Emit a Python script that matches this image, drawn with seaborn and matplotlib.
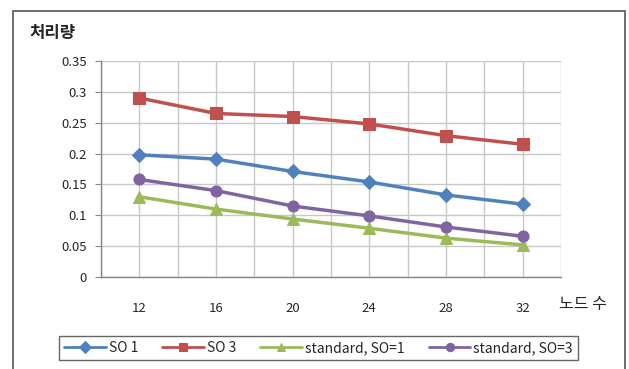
import matplotlib
matplotlib.use("Agg")
import matplotlib.pyplot as plt
import matplotlib.patches as patches
from matplotlib.ticker import MultipleLocator
import seaborn as sns
import pandas as pd
import numpy as np

nodes = ["12", "16", "20", "24", "28", "32"]
so1 = [0.198, 0.191, 0.171, 0.154, 0.133, 0.118]
so3 = [0.290, 0.265, 0.260, 0.248, 0.229, 0.215]
std_so1 = [0.130, 0.110, 0.094, 0.079, 0.063, 0.052]
std_so3 = [0.158, 0.140, 0.115, 0.099, 0.081, 0.066]
series_names = ["SO 1", "SO 3", "standard, SO=1", "standard, SO=3"]
y_ticks = [0, 0.05, 0.1, 0.15, 0.2, 0.25, 0.3, 0.35]
y_labels = ["0", "0.05", "0.1", "0.15", "0.2", "0.25", "0.3", "0.35"]

sns.set_style("white")
plt.rcParams['font.family'] = ['Noto Sans CJK KR', 'DejaVu Sans']

fig = plt.figure(figsize=(6.29, 3.69), dpi=100)
ax = fig.add_axes([101/629, 1-277/369, 460/629, 216/369])

colors = ["#4F81BD", "#C0504D", "#9BBB59", "#8064A2"]
markers = ["D", "s", "^", "o"]
msizes = [7, 9, 8, 8]
values = [so1, so3, std_so1, std_so3]
xpos = np.arange(len(nodes))
for name, vals, c, m, ms in zip(series_names, values, colors, markers, msizes):
    df = pd.DataFrame({"x": xpos, "y": vals})
    sns.lineplot(data=df, x="x", y="y", ax=ax, color=c, marker=m, markersize=ms,
                 markeredgecolor=c, linewidth=2.5, label=name, sort=False, zorder=3)

ax.set_xlim(-0.5, 5.5)
ax.set_ylim(0, 0.35)
ax.set_xticks(xpos)
ax.set_xticklabels(nodes)
ax.xaxis.set_minor_locator(MultipleLocator(0.5))
ax.set_yticks(y_ticks)
ax.set_yticklabels(y_labels)
ax.grid(True, which="both", axis="x", color="#C8C8C8", linewidth=1)
ax.grid(True, which="major", axis="y", color="#C8C8C8", linewidth=1)
ax.set_axisbelow(True)
for s in ["top", "right"]:
    ax.spines[s].set_visible(False)
for s in ["left", "bottom"]:
    ax.spines[s].set_color("#868686")
    ax.spines[s].set_linewidth(1)
ax.tick_params(axis="y", which="major", length=4, color="#868686", labelsize=9.5, pad=6, left=True)
ax.tick_params(axis="x", which="both", length=0, labelsize=9.5, pad=18)
ax.set_xlabel("")
ax.set_ylabel("")

fig.text(52/629, 1-33/369, "처리량", ha="center", va="center", fontsize=12, fontweight="bold")
fig.text(583/629, 1-305/369, "노드 수", ha="center", va="center", fontsize=11.5)

leg = ax.legend(loc="center", bbox_to_anchor=(318.5/629, 1-348/369), bbox_transform=fig.transFigure,
                ncol=4, frameon=True, fancybox=False, edgecolor="#404040", fontsize=10,
                handlelength=3.0, columnspacing=1.75, handletextpad=0.2, borderpad=0.35,
                borderaxespad=0)
leg.get_frame().set_linewidth(1)
for h in leg.legend_handles:
    h.set_markersize(6)
    h.set_linewidth(2)

frame = patches.Rectangle((12.5/629, -0.05), (625-12.5)/629, 1-11/369+0.05, transform=fig.transFigure,
                          fill=False, edgecolor="#555555", linewidth=1.2, clip_on=False)
fig.patches.append(frame)

fig.savefig("out.png", dpi=100)
